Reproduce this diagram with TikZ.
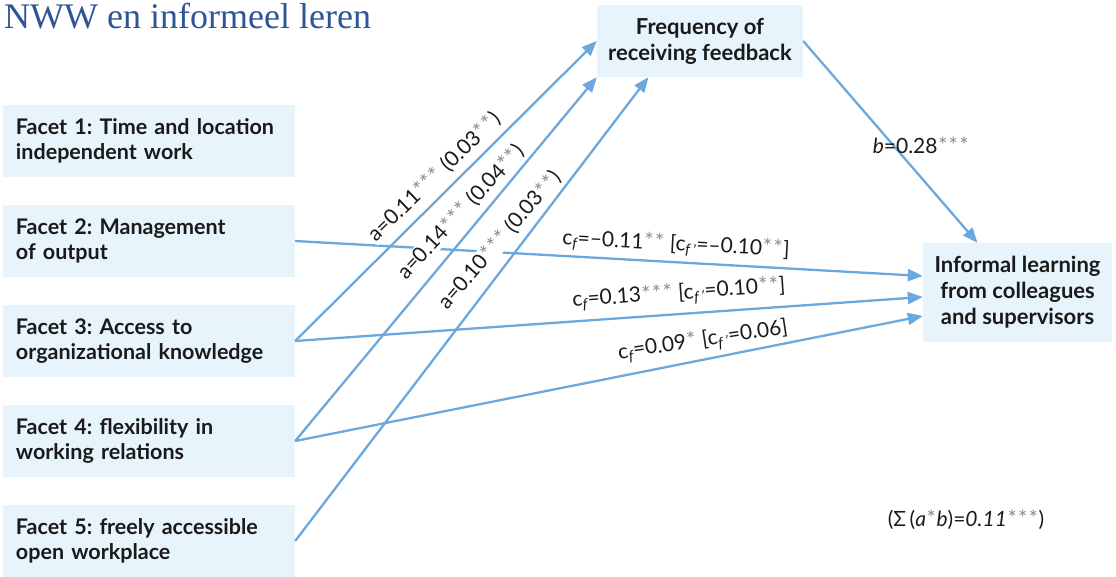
\documentclass[tikz,border=0pt]{standalone}
\usepackage{fontspec}
\setmainfont{Lato}
\newfontfamily\titlefont{Liberation Serif}
\usetikzlibrary{arrows.meta,calc}
\frenchspacing
\definecolor{boxfill}{HTML}{E8F4FC}
\definecolor{arr}{HTML}{6AA8DE}
\definecolor{titleblue}{HTML}{2D5597}
\definecolor{stargray}{HTML}{8C8C8C}
\definecolor{txt}{HTML}{1A1A1A}
\newcommand{\onestar}{\kern0.6pt*\kern0.6pt}
\newcommand{\sig}[1]{{\color{stargray}\fontsize{22}{22}\selectfont\foreach \k in {1,...,#1}{\onestar}}}
\newcommand{\cf}{c\textsubscript{\itshape f}}
\newcommand{\cfp}{c\textsubscript{\itshape f\,'}}
\begin{document}
\begin{tikzpicture}[x=1pt,y=-1pt,
  facetbox/.style={fill=boxfill, draw=none, minimum width=292pt, minimum height=72pt,
    align=left, text width=266pt, inner sep=0pt, text=txt,
    font=\bfseries\fontsize{21.5}{25}\selectfont},
  midbox/.style={fill=boxfill, draw=none, align=center, inner sep=0pt, text=txt,
    font=\bfseries\fontsize{22}{26}\selectfont},
  link/.style={draw=arr, line width=2.3pt, -{Triangle[length=15pt,width=12pt]}},
  coef/.style={font=\fontsize{21}{23}\selectfont, text=txt, inner sep=0.5pt}
]
\useasboundingbox (0,0) rectangle (1116,577);

\node[anchor=base west, text=titleblue, font=\titlefont\fontsize{36}{40}\selectfont, inner sep=0pt] (title) at (4,29) {NWW en informeel leren};

\node[facetbox] (f1) at (149,141) {Facet 1: Time and location\\independent work};
\node[facetbox] (f2) at (149,241) {Facet 2: Management\\of output};
\node[facetbox] (f3) at (149,341) {Facet 3: Access to\\organizational knowledge};
\node[facetbox] (f4) at (149,441) {Facet 4: flexibility in\\working relations};
\node[facetbox] (f5) at (149,541) {Facet 5: freely accessible\\open workplace};

\node[midbox, minimum width=206pt, minimum height=72pt] (freq) at (700,41) {Frequency of\\receiving feedback};
\node[midbox, minimum width=189pt, minimum height=99pt] (inf) at (1017.5,292.5) {Informal learning\\from colleagues\\and supervisors};

\draw[link] (f2.east) -- ([yshift=16.5pt]inf.west);

\node[coef, fill=white, rotate=44] (a1) at (434,177) {a=0.11\sig{3} (0.03\sig{2})};
\node[coef, fill=white, rotate=47] (a2) at (461,212) {a=0.14\sig{3} (0.04\sig{2})};
\node[coef, fill=white, rotate=49] (a3) at (500,240) {a=0.10\sig{3} (0.03\sig{2})};

\draw[link] (f3.east) -- (freq.west);
\draw[link] (f4.east) -- (freq.south west);
\draw[link] (f5.east) -- ($(freq.south west)!0.25!(freq.south east)$);
\draw[link] (f3.east) -- ([yshift=-4.5pt]inf.west);
\draw[link] (f4.east) -- ([yshift=-23.5pt]inf.west);
\draw[link] (freq.east) -- ([xshift=-40pt]inf.north);

\node[coef, rotate=-3] (c1) at (676,245) {\cf=–0.11\sig{2} [\cfp=–0.10\sig{2}]};
\node[coef, rotate=4] (c2) at (679,294) {\cf=0.13\sig{3} [\cfp=0.10\sig{2}]};
\node[coef, rotate=8.5] (c3) at (703,341) {\cf=0.09\sig{1} [\cfp=0.06]};
\node[coef] (b) at (921,145) {\textit{b}=0.28\sig{3}};
\node[coef] (sum) at (966,520) {(Σ\,(\textit{a}\sig{1}\textit{b})=\textit{0.11}\sig{3})};
\end{tikzpicture}
\end{document}
